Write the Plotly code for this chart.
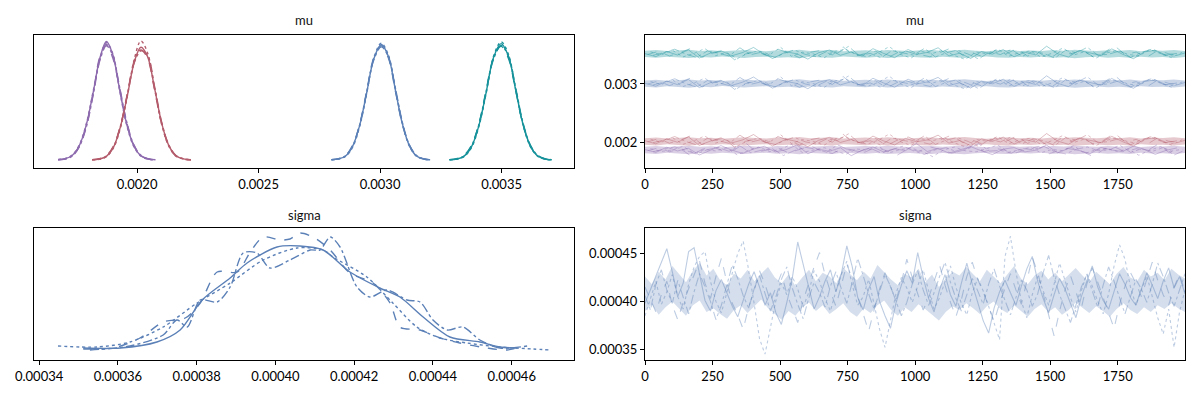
import numpy as np
import plotly.graph_objects as go

# ---------------- data ----------------
UNIT = 1e-6          # trace / x values below are stored in micro-units
DENS = 1e3           # densities below are stored in thousands

param_names = ["mu", "sigma"]
chain_styles = ["solid", "dash", "dot", "dashdot"]
dim_colors = ["#8d6bae", "#b45c6c", "#5b80b7", "#17929b"]   # mu dims
sigma_color = "#5b80b7"

# ---- mu posterior KDEs (x in micro-units, density in thousands) ----
mu_kde_x = [
    [1675, 1704, 1733, 1762, 1791, 1820, 1848, 1874, 1900, 1928, 1957, 1986, 2015, 2044, 2076],
    [1815, 1845, 1874, 1903, 1932, 1961, 1990, 2016, 2043, 2072, 2101, 2130, 2159, 2190, 2222],
    [2800, 2829, 2858, 2887, 2916, 2945, 2974, 3005, 3034, 3063, 3092, 3121, 3150, 3179, 3206],
    [3286, 3316, 3346, 3376, 3406, 3436, 3466, 3498, 3528, 3558, 3588, 3618, 3648, 3678, 3706],
]
mu_kde_y = [
    [  # purple dim, chains 0..3
        [0.02, 0.07, 0.25, 0.78, 1.92, 3.75, 5.65, 6.52, 5.80, 3.90, 2.00, 0.80, 0.24, 0.06, 0.01],
        [0.01, 0.06, 0.22, 0.74, 1.85, 3.70, 5.72, 6.35, 5.62, 3.98, 2.10, 0.84, 0.26, 0.07, 0.02],
        [0.03, 0.08, 0.27, 0.82, 1.98, 3.82, 5.60, 6.45, 5.86, 3.85, 1.95, 0.76, 0.22, 0.05, 0.01],
        [0.02, 0.05, 0.21, 0.72, 1.80, 3.62, 5.52, 6.28, 5.75, 4.02, 2.12, 0.86, 0.27, 0.07, 0.02],
    ],
    [  # rose dim
        [0.01, 0.05, 0.20, 0.70, 1.85, 3.60, 5.45, 6.20, 5.70, 3.95, 2.05, 0.82, 0.25, 0.06, 0.01],
        [0.02, 0.07, 0.24, 0.76, 1.90, 3.70, 5.50, 6.05, 5.60, 3.88, 2.00, 0.80, 0.23, 0.05, 0.01],
        [0.01, 0.04, 0.18, 0.66, 1.78, 3.58, 5.62, 6.55, 5.90, 3.92, 1.98, 0.78, 0.22, 0.06, 0.02],
        [0.02, 0.06, 0.22, 0.73, 1.88, 3.66, 5.40, 6.00, 5.75, 4.05, 2.10, 0.85, 0.26, 0.07, 0.01],
    ],
    [  # blue dim
        [0.01, 0.06, 0.22, 0.75, 1.90, 3.70, 5.55, 6.35, 5.70, 3.85, 1.98, 0.78, 0.22, 0.05, 0.01],
        [0.02, 0.07, 0.25, 0.80, 1.95, 3.78, 5.60, 6.28, 5.62, 3.80, 1.95, 0.80, 0.24, 0.06, 0.02],
        [0.01, 0.05, 0.20, 0.70, 1.85, 3.66, 5.60, 6.42, 5.78, 3.90, 2.00, 0.76, 0.21, 0.05, 0.01],
        [0.02, 0.06, 0.23, 0.77, 1.93, 3.72, 5.50, 6.22, 5.68, 3.95, 2.06, 0.82, 0.25, 0.07, 0.02],
    ],
    [  # teal dim
        [0.01, 0.05, 0.21, 0.72, 1.86, 3.68, 5.60, 6.40, 5.72, 3.86, 1.98, 0.78, 0.23, 0.05, 0.01],
        [0.02, 0.08, 0.26, 0.80, 1.96, 3.80, 5.58, 6.25, 5.60, 3.82, 1.96, 0.80, 0.24, 0.06, 0.02],
        [0.01, 0.05, 0.19, 0.68, 1.82, 3.64, 5.66, 6.50, 5.82, 3.90, 1.95, 0.75, 0.21, 0.05, 0.01],
        [0.02, 0.06, 0.23, 0.76, 1.92, 3.74, 5.52, 6.30, 5.70, 3.96, 2.05, 0.83, 0.26, 0.07, 0.02],
    ],
]

# ---- sigma posterior KDEs per chain (x micro-units, density thousands) ----
sigma_kde_x = [
    [351.2, 360.6, 369.9, 375.8, 381.4, 388.5, 392.8, 400.4, 406.2, 412.1, 418.9, 426.5, 431.6, 437.5, 444.3, 451.9, 457.0, 461.3],
    [351.2, 358.8, 365.6, 371.5, 377.1, 380.9, 385.2, 390.3, 393.6, 396.9, 401.2, 403.7, 406.2, 410.0, 413.9, 418.9, 424.8, 429.1, 431.6, 436.7, 441.8, 446.8, 453.7, 458.8, 462.1],
    [344.8, 354.7, 363.1, 371.5, 380.1, 388.5, 396.9, 405.5, 412.1, 414.6, 423.2, 429.8, 435.9, 441.8, 448.6, 457.0, 465.4, 469.7],
    [352.9, 363.1, 371.5, 375.0, 377.6, 380.9, 385.2, 388.5, 391.8, 395.3, 398.6, 403.7, 408.8, 411.3, 413.9, 416.4, 420.7, 424.0, 428.3, 433.4, 436.7, 440.0, 443.6, 447.6, 451.9, 457.0, 463.9],
]
sigma_kde_y = [
    [0.36, 0.36, 1.44, 3.60, 9.00, 12.96, 15.66, 18.54, 18.72, 18.00, 14.04, 11.16, 9.54, 5.94, 2.34, 1.44, 0.54, 0.36],
    [0.18, 0.36, 2.16, 5.04, 5.76, 8.46, 14.04, 14.04, 17.64, 20.34, 19.80, 19.98, 21.06, 20.16, 18.00, 13.86, 12.06, 8.46, 4.14, 3.60, 2.16, 1.26, 0.36, 0.00, 0.54],
    [0.72, 0.54, 1.44, 4.14, 8.46, 12.06, 16.20, 18.36, 18.00, 16.74, 13.14, 8.46, 4.14, 2.16, 1.26, 0.54, 0.18, 0.00],
    [0.00, 0.72, 2.70, 5.40, 4.14, 9.00, 8.64, 11.34, 17.46, 17.46, 14.76, 16.20, 18.00, 18.00, 20.34, 18.54, 11.34, 9.54, 10.80, 9.00, 8.64, 5.40, 3.60, 4.14, 1.80, 0.36, 0.72],
]

# ---- mu traces (thinned draws, micro-units) : [dim][chain] ----
mu_trace = [
    [
        [1880, 1832, 1921, 1857, 1903, 1789, 1866, 1948, 1871, 1815, 1890, 1937, 1842, 1879, 1960, 1808, 1885, 1851, 1912, 1776, 1869, 1924, 1838, 1893, 1862, 1985, 1847, 1901, 1819, 1876, 1930, 1858, 1795, 1888, 1914, 1841, 1870, 1956, 1826, 1897, 1864, 1809, 1918, 1873, 1846, 1940, 1882, 1799, 1867, 1909],
        [1862, 1911, 1843, 1895, 1771, 1884, 1928, 1850, 1876, 1997, 1838, 1869, 1907, 1822, 1889, 1945, 1856, 1814, 1898, 1874, 1836, 1919, 1861, 1787, 1893, 1850, 1926, 1879, 1817, 1866, 1952, 1845, 1902, 1868, 1829, 1887, 1934, 1810, 1872, 1915, 1853, 1764, 1881, 1926, 1840, 1896, 1859, 1971, 1835, 1878],
        [1897, 1849, 1873, 1936, 1818, 1881, 1858, 1908, 1790, 1867, 1925, 1845, 1889, 1970, 1830, 1877, 1913, 1854, 1801, 1890, 1868, 1939, 1825, 1880, 1906, 1852, 1761, 1874, 1923, 1861, 1842, 1898, 1957, 1834, 1871, 1916, 1827, 1883, 1862, 1949, 1812, 1876, 1904, 1848, 1891, 1783, 1869, 1931, 1856, 1885],
        [1845, 1890, 1927, 1866, 1804, 1879, 1915, 1851, 1942, 1826, 1870, 1894, 1779, 1863, 1920, 1887, 1835, 1961, 1872, 1848, 1905, 1823, 1884, 1937, 1859, 1797, 1876, 1912, 1841, 1892, 1982, 1854, 1867, 1820, 1899, 1878, 1936, 1843, 1807, 1886, 1925, 1861, 1873, 1954, 1832, 1894, 1850, 1916, 1788, 1870],
    ],
    [
        [2031, 1978, 2064, 2005, 2097, 1952, 2023, 2081, 1994, 2046, 2137, 2009, 1968, 2058, 2017, 1931, 2040, 2089, 2002, 2052, 1985, 2110, 2027, 1960, 2071, 2013, 2044, 2126, 1990, 2035, 1945, 2062, 2019, 2093, 1976, 2048, 2008, 2154, 2026, 1971, 2077, 2037, 1999, 2106, 2015, 1940, 2055, 2084, 2003, 2029],
        [2012, 2067, 1989, 2043, 2118, 1964, 2033, 2076, 1921, 2020, 2058, 1997, 2101, 2038, 1957, 2049, 2085, 2006, 2143, 1982, 2026, 2069, 1948, 2041, 2094, 2015, 1973, 2057, 2128, 2001, 2036, 1962, 2079, 2022, 2108, 1987, 2047, 1935, 2064, 2018, 2091, 1979, 2039, 2160, 2010, 2053, 1969, 2082, 2024, 1993],
        [2059, 2004, 2087, 1970, 2028, 2113, 1991, 2046, 1939, 2035, 2074, 2011, 2132, 1983, 2050, 2021, 1956, 2066, 2099, 2007, 1974, 2042, 2145, 2016, 1950, 2061, 2030, 2088, 1995, 1928, 2054, 2023, 2104, 1980, 2044, 2072, 1966, 2033, 2121, 2002, 2060, 1944, 2037, 2081, 2013, 1986, 2096, 2027, 1958, 2049],
        [1998, 2043, 2102, 2019, 1961, 2071, 2034, 1987, 2125, 2008, 2052, 1943, 2026, 2090, 2014, 1975, 2063, 2038, 2149, 1993, 2031, 1954, 2078, 2045, 2001, 2117, 1969, 2040, 2086, 2020, 1934, 2057, 2011, 2098, 1979, 2065, 2029, 1950, 2083, 2041, 2134, 1996, 2018, 2072, 1963, 2048, 2107, 2006, 1982, 2039],
    ],
    [
        [3012, 2961, 3049, 2988, 3077, 2937, 3020, 3062, 2975, 3031, 3118, 2996, 2951, 3043, 3008, 2919, 3028, 3074, 2984, 3039, 2968, 3097, 3015, 2944, 3058, 2999, 3033, 3112, 2973, 3021, 2930, 3047, 3003, 3081, 2959, 3036, 2991, 3139, 3011, 2955, 3066, 3024, 2982, 3093, 3001, 2926, 3041, 3070, 2987, 3016],
        [2998, 3052, 2972, 3030, 3104, 2947, 3019, 3061, 2908, 3006, 3044, 2981, 3087, 3023, 2942, 3035, 3071, 2990, 3128, 2966, 3012, 3055, 2933, 3027, 3080, 3000, 2958, 3042, 3113, 2986, 3022, 2948, 3064, 3007, 3095, 2971, 3034, 2921, 3050, 3004, 3078, 2963, 3025, 3146, 2995, 3039, 2953, 3068, 3010, 2978],
        [3044, 2989, 3073, 2956, 3014, 3099, 2977, 3032, 2925, 3021, 3059, 2997, 3119, 2969, 3036, 3007, 2941, 3052, 3086, 2993, 2960, 3028, 3131, 3002, 2936, 3047, 3016, 3075, 2980, 2914, 3040, 3009, 3090, 2966, 3030, 3058, 2952, 3019, 3107, 2988, 3046, 2931, 3023, 3067, 2999, 2972, 3083, 3013, 2945, 3035],
        [2984, 3029, 3088, 3005, 2947, 3057, 3020, 2973, 3111, 2994, 3038, 2929, 3012, 3076, 3000, 2961, 3049, 3024, 3135, 2979, 3017, 2940, 3064, 3031, 2987, 3103, 2955, 3026, 3072, 3006, 2920, 3043, 2997, 3084, 2965, 3051, 3015, 2936, 3069, 3027, 3120, 2982, 3004, 3058, 2949, 3034, 3093, 2992, 2968, 3025],
    ],
    [
        [3517, 3466, 3554, 3493, 3582, 3442, 3525, 3567, 3480, 3536, 3623, 3501, 3456, 3548, 3513, 3424, 3533, 3579, 3489, 3544, 3473, 3602, 3520, 3449, 3563, 3504, 3538, 3617, 3478, 3526, 3435, 3552, 3508, 3586, 3464, 3541, 3496, 3644, 3516, 3460, 3571, 3529, 3487, 3598, 3506, 3431, 3546, 3575, 3492, 3521],
        [3503, 3557, 3477, 3535, 3609, 3452, 3524, 3566, 3413, 3511, 3549, 3486, 3592, 3528, 3447, 3540, 3576, 3495, 3633, 3471, 3517, 3560, 3438, 3532, 3585, 3505, 3463, 3547, 3618, 3491, 3527, 3453, 3569, 3512, 3600, 3476, 3539, 3426, 3555, 3509, 3583, 3468, 3530, 3651, 3500, 3544, 3458, 3573, 3515, 3483],
        [3549, 3494, 3578, 3461, 3519, 3604, 3482, 3537, 3430, 3526, 3564, 3502, 3624, 3474, 3541, 3512, 3446, 3557, 3591, 3498, 3465, 3533, 3636, 3507, 3441, 3552, 3521, 3580, 3485, 3419, 3545, 3514, 3595, 3471, 3535, 3563, 3457, 3524, 3612, 3493, 3551, 3436, 3528, 3572, 3504, 3477, 3588, 3518, 3450, 3540],
        [3489, 3534, 3593, 3510, 3452, 3562, 3525, 3478, 3616, 3499, 3543, 3434, 3517, 3581, 3505, 3466, 3554, 3529, 3640, 3484, 3522, 3445, 3569, 3536, 3492, 3608, 3460, 3531, 3577, 3511, 3425, 3548, 3502, 3589, 3470, 3556, 3520, 3441, 3574, 3532, 3625, 3487, 3509, 3563, 3454, 3539, 3598, 3497, 3473, 3530],
    ],
]

# ---- dense core of each mu trace band (micro-units): [dim] lower / upper ----
mu_band_lo = [
    [1818, 1806, 1825, 1812, 1801, 1821, 1810, 1828, 1815, 1804, 1819, 1826, 1809, 1817, 1800, 1823, 1813, 1806, 1827, 1816, 1808, 1820, 1803, 1814, 1824, 1811, 1805, 1822, 1816, 1802, 1819, 1827, 1810, 1806, 1821, 1813, 1825, 1808, 1817, 1800, 1815, 1823, 1809, 1819, 1805, 1826, 1812, 1818, 1804, 1821],
    [1963, 1951, 1970, 1957, 1946, 1966, 1955, 1973, 1960, 1949, 1964, 1971, 1954, 1962, 1945, 1968, 1958, 1951, 1972, 1961, 1953, 1965, 1948, 1959, 1969, 1956, 1950, 1967, 1961, 1947, 1964, 1972, 1955, 1951, 1966, 1958, 1970, 1953, 1962, 1945, 1960, 1968, 1954, 1964, 1950, 1971, 1957, 1963, 1949, 1966],
    [2953, 2941, 2960, 2947, 2936, 2956, 2945, 2963, 2950, 2939, 2954, 2961, 2944, 2952, 2935, 2958, 2948, 2941, 2962, 2951, 2943, 2955, 2938, 2949, 2959, 2946, 2940, 2957, 2951, 2937, 2954, 2962, 2945, 2941, 2956, 2948, 2960, 2943, 2952, 2935, 2950, 2958, 2944, 2954, 2940, 2961, 2947, 2953, 2939, 2956],
    [3458, 3446, 3465, 3452, 3441, 3461, 3450, 3468, 3455, 3444, 3459, 3466, 3449, 3457, 3440, 3463, 3453, 3446, 3467, 3456, 3448, 3460, 3443, 3454, 3464, 3451, 3445, 3462, 3456, 3442, 3459, 3467, 3450, 3446, 3461, 3453, 3465, 3448, 3457, 3440, 3455, 3463, 3449, 3459, 3445, 3466, 3452, 3458, 3444, 3461],
]
mu_band_hi = [
    [1930, 1942, 1925, 1936, 1947, 1929, 1939, 1922, 1934, 1945, 1931, 1924, 1940, 1933, 1948, 1927, 1937, 1944, 1923, 1935, 1941, 1928, 1946, 1934, 1926, 1938, 1943, 1929, 1936, 1949, 1931, 1922, 1939, 1944, 1928, 1937, 1925, 1942, 1932, 1947, 1935, 1927, 1941, 1930, 1945, 1924, 1938, 1931, 1946, 1929],
    [2075, 2087, 2070, 2081, 2092, 2074, 2084, 2067, 2079, 2090, 2076, 2069, 2085, 2078, 2093, 2072, 2082, 2089, 2068, 2080, 2086, 2073, 2091, 2079, 2071, 2083, 2088, 2074, 2081, 2094, 2076, 2067, 2084, 2089, 2073, 2082, 2070, 2087, 2077, 2092, 2080, 2072, 2086, 2075, 2090, 2069, 2083, 2076, 2091, 2074],
    [3060, 3072, 3055, 3066, 3077, 3059, 3069, 3052, 3064, 3075, 3061, 3054, 3070, 3063, 3078, 3057, 3067, 3074, 3053, 3065, 3071, 3058, 3076, 3064, 3056, 3068, 3073, 3059, 3066, 3079, 3061, 3052, 3069, 3074, 3058, 3067, 3055, 3072, 3062, 3077, 3065, 3057, 3071, 3060, 3075, 3054, 3068, 3061, 3076, 3059],
    [3565, 3577, 3560, 3571, 3582, 3564, 3574, 3557, 3569, 3580, 3566, 3559, 3575, 3568, 3583, 3562, 3572, 3579, 3558, 3570, 3576, 3563, 3581, 3569, 3561, 3573, 3578, 3564, 3571, 3584, 3566, 3557, 3574, 3579, 3563, 3572, 3560, 3577, 3567, 3582, 3570, 3562, 3576, 3565, 3580, 3559, 3573, 3566, 3581, 3564],
]

# ---- sigma traces (thinned draws, micro-units) : [chain] ----
sigma_trace = [
    [398, 412, 425, 440, 455, 431, 405, 419, 452, 456, 428, 401, 390, 411, 423, 408, 395, 384, 402, 418, 431, 415, 396, 409, 388, 376, 399, 424, 462, 438, 414, 392, 405, 421, 433, 410, 429, 458, 436, 404, 391, 413, 426, 400, 385, 372, 398, 417, 432, 419, 451, 425, 403, 389, 412, 428, 407, 395, 419, 440, 418, 399, 380, 367, 393, 410, 422, 409, 396, 416, 434, 447, 421, 403, 388, 407, 424, 413, 398, 383, 405, 420, 437, 415, 401, 392, 411, 429, 418, 404, 396, 412, 430, 417, 403, 421, 435, 414, 426, 408],
    [415, 402, 389, 407, 421, 396, 381, 399, 413, 427, 442, 419, 403, 426, 445, 420, 398, 386, 371, 394, 411, 432, 418, 400, 414, 429, 408, 392, 378, 401, 419, 436, 451, 428, 410, 395, 417, 439, 423, 406, 387, 369, 392, 413, 430, 416, 401, 420, 444, 425, 407, 391, 404, 422, 438, 417, 399, 384, 402, 426, 441, 423, 410, 395, 379, 398, 414, 429, 412, 397, 421, 446, 430, 408, 386, 364, 390, 412, 427, 409, 393, 418, 435, 420, 404, 389, 372, 397, 416, 430, 419, 405, 424, 441, 422, 407, 396, 415, 428, 410],
    [385, 403, 421, 397, 410, 428, 405, 392, 418, 436, 447, 452, 421, 400, 388, 409, 431, 450, 463, 433, 398, 361, 345, 372, 401, 419, 407, 426, 413, 394, 409, 432, 421, 403, 390, 411, 428, 442, 417, 396, 405, 423, 398, 371, 352, 380, 408, 425, 414, 399, 417, 433, 411, 392, 404, 421, 437, 415, 398, 386, 409, 424, 411, 395, 378, 360, 447, 468, 431, 400, 383, 407, 426, 412, 396, 418, 440, 422, 404, 389, 411, 429, 416, 400, 387, 408, 437, 459, 444, 415, 396, 412, 427, 405, 383, 366, 392, 352, 389, 412],
    [406, 391, 418, 433, 412, 398, 422, 404, 387, 410, 429, 415, 400, 381, 396, 417, 438, 424, 406, 393, 413, 427, 409, 390, 405, 423, 436, 414, 397, 382, 403, 420, 409, 394, 416, 431, 413, 398, 420, 445, 427, 408, 392, 410, 428, 416, 401, 385, 399, 418, 432, 412, 396, 409, 426, 441, 420, 403, 390, 406, 424, 411, 397, 418, 434, 416, 400, 386, 404, 422, 412, 395, 408, 430, 448, 425, 407, 392, 378, 396, 415, 428, 410, 394, 417, 436, 421, 403, 387, 405, 423, 413, 399, 418, 440, 426, 409, 395, 412, 429],
]

# ---- dense core of the sigma trace (micro-units) ----
sigma_band_lo = [390, 397, 386, 394, 400, 392, 385, 396, 401, 389, 393, 387, 382, 391, 396, 388, 395, 402, 393, 387,
                 381, 390, 385, 394, 399, 390, 396, 387, 392, 398, 389, 384, 393, 388, 396, 401, 391, 385, 394, 389,
                 397, 392, 386, 380, 389, 395, 391, 398, 393, 387, 395, 400, 392, 388, 396, 390, 384, 392, 397, 389,
                 394, 386, 391, 399, 393, 388, 395, 390, 384, 392, 398, 391, 387, 394, 389, 396, 392, 398, 393, 389]
sigma_band_hi = [426, 418, 431, 423, 437, 428, 420, 432, 440, 427, 434, 422, 417, 429, 424, 433, 421, 429, 436, 425,
                 419, 428, 416, 425, 433, 421, 430, 426, 419, 435, 428, 422, 431, 424, 438, 430, 423, 417, 429, 425,
                 434, 420, 428, 415, 424, 431, 427, 436, 429, 421, 433, 426, 419, 428, 437, 424, 418, 427, 432, 423,
                 430, 421, 428, 435, 427, 420, 431, 424, 418, 429, 436, 425, 421, 433, 426, 430, 422, 434, 428, 424]

N_DRAWS = 2000

mu_xticks = [0.0020, 0.0025, 0.0030, 0.0035]
mu_yticks = [0.002, 0.003]
sigma_ticks = [0.00034, 0.00036, 0.00038, 0.00040, 0.00042, 0.00044, 0.00046]
sigma_trace_yticks = [0.00035, 0.00040, 0.00045]
draw_ticks = [0, 250, 500, 750, 1000, 1250, 1500, 1750]

# ---------------- figure ----------------
def rgba(hex_color, a):
    h = hex_color.lstrip("#")
    r, g, b = int(h[0:2], 16), int(h[2:4], 16), int(h[4:6], 16)
    return f"rgba({r},{g},{b},{a})"


def add_band(fig, lo, hi, color, xa, ya):
    draws = np.linspace(0, N_DRAWS - 1, len(lo))
    fig.add_trace(go.Scatter(x=draws, y=np.array(lo) * UNIT, mode="lines", line=dict(width=0),
                             xaxis=xa, yaxis=ya, showlegend=False, hoverinfo="skip"))
    fig.add_trace(go.Scatter(x=draws, y=np.array(hi) * UNIT, mode="lines", line=dict(width=0),
                             fill="tonexty", fillcolor=color,
                             xaxis=xa, yaxis=ya, showlegend=False, hoverinfo="skip"))


fig = go.Figure()

# mu KDEs (top-left: x, y)
for d in range(4):
    for c in range(4):
        fig.add_trace(go.Scatter(
            x=np.array(mu_kde_x[d]) * UNIT, y=np.array(mu_kde_y[d][c]) * DENS,
            mode="lines", line=dict(color=dim_colors[d], width=1.4, dash=chain_styles[c], shape="spline", smoothing=1.0),
            xaxis="x", yaxis="y", showlegend=False, hoverinfo="skip"))

# mu traces (top-right: x2, y2)
for d in range(4):
    add_band(fig, mu_band_lo[d], mu_band_hi[d], rgba(dim_colors[d], 0.33), "x2", "y2")
for c in range(4):
    for d in range(4):
        vals = np.array(mu_trace[d][c]) * UNIT
        draws = np.linspace(c * 10, N_DRAWS - 1 - (3 - c) * 10, len(vals))
        fig.add_trace(go.Scatter(
            x=draws, y=vals, mode="lines",
            line=dict(color=rgba(dim_colors[d], 0.4), width=1, dash=chain_styles[c]),
            xaxis="x2", yaxis="y2", showlegend=False, hoverinfo="skip"))

# sigma KDEs (bottom-left: x3, y3)
for c in range(4):
    fig.add_trace(go.Scatter(
        x=np.array(sigma_kde_x[c]) * UNIT, y=np.array(sigma_kde_y[c]) * DENS,
        mode="lines", line=dict(color=sigma_color, width=1.4, dash=chain_styles[c], shape="spline", smoothing=0.8),
        xaxis="x3", yaxis="y3", showlegend=False, hoverinfo="skip"))

# sigma traces (bottom-right: x4, y4)
add_band(fig, sigma_band_lo, sigma_band_hi, rgba(sigma_color, 0.26), "x4", "y4")
for c in range(4):
    vals = np.array(sigma_trace[c]) * UNIT
    draws = np.linspace(0, N_DRAWS - 1, len(vals))
    fig.add_trace(go.Scatter(
        x=draws, y=vals, mode="lines",
        line=dict(color=rgba(sigma_color, 0.4), width=1.1, dash=chain_styles[c]),
        xaxis="x4", yaxis="y4", showlegend=False, hoverinfo="skip"))

FONT = "Lato"
axis_common = dict(showline=True, linecolor="black", linewidth=1, mirror=True,
                   showgrid=False, zeroline=False, ticks="outside", ticklen=4,
                   tickwidth=1, tickcolor="black", automargin=False,
                   tickfont=dict(family=FONT, size=13, color="black"))
axis_noticks = {k: v for k, v in axis_common.items() if k != "ticks"}

top_dom = [0.58, 0.9125]
bot_dom = [0.10, 0.43]
left_dom = [34 / 1200, 574 / 1200]
right_dom = [645 / 1200, 1185 / 1200]

fig.update_layout(
    width=1200, height=400,
    margin=dict(l=0, r=0, t=0, b=0),
    paper_bgcolor="white", plot_bgcolor="white",
    showlegend=False,
    xaxis=dict(domain=left_dom, anchor="y", range=[0.001576, 0.003798],
               tickvals=mu_xticks, ticktext=[f"{v:.4f}" for v in mu_xticks], **axis_common),
    yaxis=dict(domain=top_dom, anchor="x", range=[-0.44 * DENS, 6.875 * DENS],
               showticklabels=False, ticks="", **axis_noticks),
    xaxis2=dict(domain=right_dom, anchor="y2", range=[0, N_DRAWS - 1],
                tickvals=draw_ticks, ticktext=[str(v) for v in draw_ticks], **axis_common),
    yaxis2=dict(domain=top_dom, anchor="x2", range=[0.001566, 0.003835],
                tickvals=mu_yticks, ticktext=[f"{v:.3f}" for v in mu_yticks], **axis_common),
    xaxis3=dict(domain=left_dom, anchor="y3", range=[0.0003387, 0.0004758],
                tickvals=sigma_ticks, ticktext=[f"{v:.5f}" for v in sigma_ticks], **axis_common),
    yaxis3=dict(domain=bot_dom, anchor="x3", range=[-1.8 * DENS, 21.96 * DENS],
                showticklabels=False, ticks="", **axis_noticks),
    xaxis4=dict(domain=right_dom, anchor="y4", range=[0, N_DRAWS - 1],
                tickvals=draw_ticks, ticktext=[str(v) for v in draw_ticks], **axis_common),
    yaxis4=dict(domain=bot_dom, anchor="x4", range=[0.0003389, 0.0004766],
                tickvals=sigma_trace_yticks, ticktext=[f"{v:.5f}" for v in sigma_trace_yticks], **axis_common),
)

title_font = dict(family=FONT, size=13, color="#111111")
for name, xc, yc in [(param_names[0], sum(left_dom) / 2, 0.95), (param_names[0], sum(right_dom) / 2, 0.95),
                     (param_names[1], sum(left_dom) / 2, 0.4625), (param_names[1], sum(right_dom) / 2, 0.4625)]:
    fig.add_annotation(text=name, x=xc, y=yc, xref="paper", yref="paper",
                       showarrow=False, font=title_font, xanchor="center", yanchor="middle")

fig.write_html("out.html", config={"displayModeBar": False},
               post_script="document.body.style.margin='0';")
